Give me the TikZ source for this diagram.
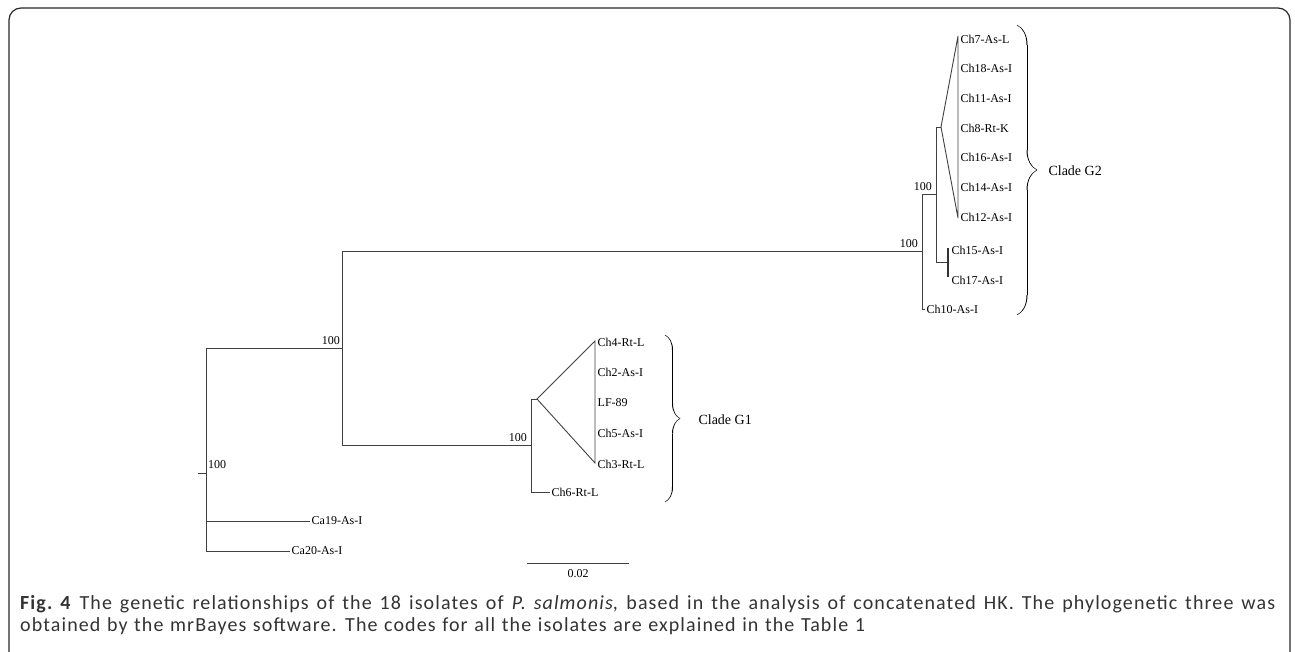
\documentclass[tikz,border=0pt]{standalone}
\usepackage{fontspec}
\setmainfont{Liberation Serif}
\newfontfamily\capfont[LetterSpace=5.5]{Carlito}
\usepackage{tikz}
\usepackage{xcolor}
\usetikzlibrary{decorations.pathreplacing,calligraphy}

\begin{document}
\begin{tikzpicture}[x=1pt, y=-1pt]
	
	\useasboundingbox (0,0) rectangle (1295,651);
	\draw[line width=1.2pt, rounded corners=12pt, black!85] (9,8) rectangle (1290,668);
	
	\tikzstyle{branch}=[line width=0.9pt, black!75]
	\tikzstyle{leaf}=[anchor=west, inner sep=1.5pt, font=\fontsize{12}{12}\selectfont]
	\tikzstyle{boot}=[inner sep=1pt, font=\fontsize{12}{12}\selectfont]
	
	% root and outgroup
	\coordinate (r0) at (198,473);
	\coordinate (n0) at (206,473);
	\coordinate (ca19) at (310,521);
	\coordinate (ca20) at (290,551);
	\coordinate (n1) at (342,348);
	
	\draw[branch] (r0) -- (n0);
	\draw[branch] (n0) |- (n1);
	\draw[branch] (n0) |- (ca19);
	\draw[branch] (n0) |- (ca20);
	\node[leaf] (l19) at (ca19) {Ca19-As-I};
	\node[leaf] (l20) at (ca20) {Ca20-As-I};
	\node[boot, anchor=south west] (b0) at (207,470) {100};
	\node[boot, anchor=south east] (b1) at (341,346) {100};
	
	% clade G1
	\begin{scope}
		\coordinate (g1) at (531,445);
		\coordinate (t1) at (537,399);
		\coordinate (t1a) at (595,341);
		\coordinate (t1b) at (595,463);
		\coordinate (ch6) at (550,492);
		
		\draw[branch] (n1) |- (g1);
		\draw[branch] (g1) |- (t1);
		\draw[branch] (g1) |- (ch6);
		\draw[branch] (t1a) -- (t1) -- (t1b) -- cycle;
		\node[boot, anchor=south east] (b2) at (528,443) {100};
		\node[leaf] (l6) at (ch6) {Ch6-Rt-L};
		
		\foreach \name [count=\i from 0] in {Ch4-Rt-L, Ch2-As-I, LF-89, Ch5-As-I, Ch3-Rt-L}
			\node[leaf] (g1l\i) at (596,342+30.5*\i) {\name};
		
		\draw[line width=1pt, decorate, decoration={calligraphic brace, amplitude=15pt}] (665,335) -- (665,502);
		\node[anchor=west, font=\fontsize{14}{14}\selectfont] (cg1) at (695,420) {Clade G1};
	\end{scope}
	
	% clade G2
	\begin{scope}
		\coordinate (g2) at (922,251);
		\coordinate (g2i) at (936,194);
		\coordinate (ch10) at (925,309);
		\coordinate (t2) at (941,127);
		\coordinate (t2a) at (958,36);
		\coordinate (t2b) at (958,218);
		\coordinate (p2) at (948,262);
		\coordinate (ch15) at (948,248);
		\coordinate (ch17) at (948,277);
		
		\draw[branch] (n1) |- (g2);
		\draw[branch] (g2) |- (g2i);
		\draw[branch] (g2) |- (ch10);
		\draw[branch] (g2i) |- (t2);
		\draw[branch] (g2i) |- (p2);
		\draw[branch] (t2a) -- (t2) -- (t2b) -- cycle;
		\draw[line width=2.2pt, black!80] (ch15) -- (ch17);
		\node[boot, anchor=south east] (b3) at (919,249) {100};
		\node[boot, anchor=south east] (b4) at (933,192) {100};
		\node[leaf] (l10) at (ch10) {Ch10-As-I};
		\node[leaf] (l15) at (950,250) {Ch15-As-I};
		\node[leaf] (l17) at (950,280) {Ch17-As-I};
		
		\foreach \name [count=\i from 0] in {Ch7-As-L, Ch18-As-I, Ch11-As-I, Ch8-Rt-K, Ch16-As-I, Ch14-As-I, Ch12-As-I}
			\node[leaf] (g2l\i) at (959,39+29.7*\i) {\name};
		
		\draw[line width=1pt, decorate, decoration={calligraphic brace, amplitude=20pt}] (1017,25) -- (1017,315);
		\node[anchor=west, font=\fontsize{14}{14}\selectfont] (cg2) at (1045,171) {Clade G2};
	\end{scope}
	
	% scale bar
	\coordinate (s0) at (527,563);
	\coordinate (s1) at (629,563);
	\draw[branch] (s0) -- (s1);
	\node[boot, anchor=north] (sl) at (578,568) {0.02};
	
	% caption
	\node[anchor=north west, inner sep=0pt, text width=1255pt, align=justify,
		font=\capfont\fontsize{20}{22.5}\selectfont, text=black!80] (cap) at (20,595)
		{\textbf{Fig.~4} The genetic relationships of the 18 isolates of \textit{P. salmonis}, based in the analysis of concatenated HK. The phylogenetic three was\linebreak {\spaceskip=6.6pt plus 1pt minus 1pt obtained by the mrBayes software. The codes for all the isolates are explained in the Table 1}};
	
\end{tikzpicture}
\end{document}
